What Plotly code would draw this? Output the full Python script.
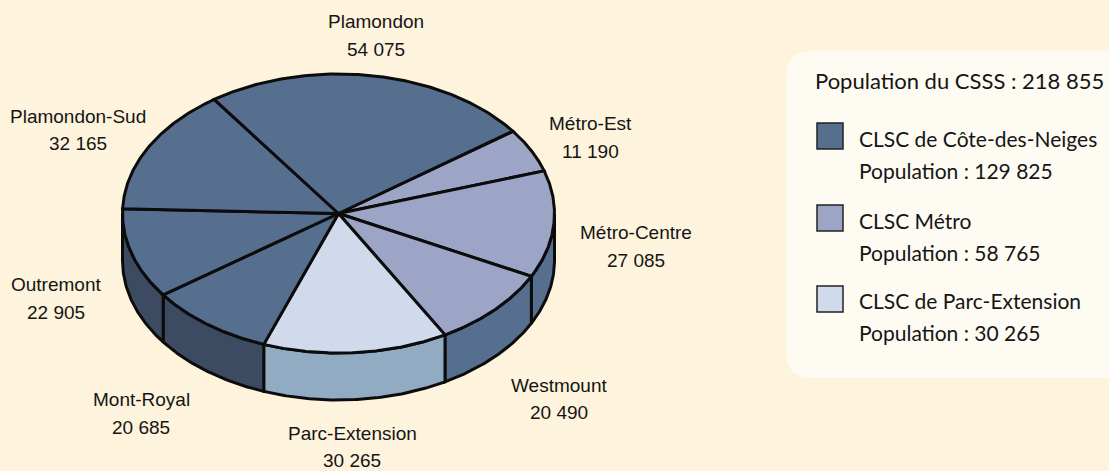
import numpy as np
import plotly.graph_objects as go

# ---- data, clockwise from the Plamondon / Métro-Est boundary
territories = ["Métro-Est", "Métro-Centre", "Westmount", "Parc-Extension",
               "Mont-Royal", "Outremont", "Plamondon-Sud", "Plamondon"]
populations = [11190, 27085, 20490, 30265, 20685, 22905, 32165, 54075]
clsc_of_territory = ["metro", "metro", "metro", "parc", "cdn", "cdn", "cdn", "cdn"]
legend_names = ["CLSC de Côte-des-Neiges", "CLSC Métro", "CLSC de Parc-Extension"]
legend_populations = [129825, 58765, 30265]
total_population = 218855

# ---- styles
BG = "#FEF3DC"
PANEL = "#FEFBF3"
INK = "#0C0C0C"
TEXT = "#151515"
top_colors = {"cdn": "#566F8F", "metro": "#9CA5C5", "parc": "#D1D9EC"}
side_colors = ["#566F8F", "#566F8F", "#566F8F", "#91ABC3", "#3C4A62", "#3C4A62", "#3C4A62", "#3C4A62"]
LABEL_FONT = "Liberation Sans"
LEGEND_FONT = "Lato"

W, H = 1109, 471
CX, CY, RX, RY, DEPTH = 338.5, 213.5, 216, 139.5, 47
START_DEG = 36.2
OUTLINE = 3


def fmt(n):
    return f"{n:,}".replace(",", " ")


def ex(t):
    return CX + RX * np.cos(np.radians(t))


def ey(t, dy=0):
    return CY - RY * np.sin(np.radians(t)) + dy


fig = go.Figure()

total = sum(populations)
sweeps = [v / total * 360 for v in populations]
starts = START_DEG - np.concatenate([[0], np.cumsum(sweeps)[:-1]])
ends = starts - np.array(sweeps)

# side walls (only the front half of the disc)
for s, e, col in zip(starts, ends, side_colors):
    a = min(s, 0)
    b = max(e, -180)
    if a <= b:
        continue
    t = np.linspace(a, b, 80)
    xs = np.concatenate([ex(t), ex(t[::-1]), [ex(t[0])]])
    ys = np.concatenate([ey(t), ey(t[::-1], DEPTH), [ey(t[0])]])
    fig.add_trace(go.Scatter(x=xs, y=ys, mode="lines", fill="toself", fillcolor=col,
                             line=dict(color=INK, width=OUTLINE), hoverinfo="skip"))

# top slices
for s, e, key, name in zip(starts, ends, clsc_of_territory, territories):
    t = np.linspace(s, e, 120)
    xs = np.concatenate([[CX], ex(t), [CX]])
    ys = np.concatenate([[CY], ey(t), [CY]])
    fig.add_trace(go.Scatter(x=xs, y=ys, mode="lines", fill="toself", fillcolor=top_colors[key],
                             line=dict(color=INK, width=OUTLINE), hoverinfo="skip", name=name))

# labels
label_pos = {
    "Plamondon": (376, 21, 376, 49), "Plamondon-Sud": (78, 116, 78, 143),
    "Métro-Est": (590, 123, 590, 151), "Métro-Centre": (636, 232, 636, 260),
    "Outremont": (56, 284, 56, 312), "Mont-Royal": (141, 399, 141, 427),
    "Westmount": (559, 385, 559, 412), "Parc-Extension": (352, 433, 352, 460),
}
for name, value in zip(territories, populations):
    x1, y1, x2, y2 = label_pos[name]
    for x, y, txt in ((x1, y1, name), (x2, y2, fmt(value))):
        fig.add_annotation(x=x, y=y, text=txt, showarrow=False, xanchor="center", yanchor="middle",
                           font=dict(family=LABEL_FONT, size=19, color=TEXT))

# legend panel
R = 26
L, T, B = 786, 51, 378
panel = (f"M {W + 5} {T} L {L + R} {T} Q {L} {T} {L} {T + R} L {L} {B - R} "
         f"Q {L} {B} {L + R} {B} L {W + 5} {B} Z")
fig.add_shape(type="path", path=panel, fillcolor=PANEL, line_width=0, layer="below")


def legend_text(x, y, txt, size=21):
    fig.add_annotation(x=x, y=y, text=txt, showarrow=False, xanchor="left", yanchor="middle",
                       font=dict(family=LEGEND_FONT, size=size, color=TEXT))


legend_text(813, 80, f"Population du CSSS : {fmt(total_population)}", size=22)
for key, name, pop, sy, y1, y2 in zip(top_colors, legend_names, legend_populations,
                                      (123, 205, 286), (138, 220, 300), (170, 252, 332)):
    fig.add_shape(type="rect", x0=817, x1=843, y0=sy, y1=sy + 26, fillcolor=top_colors[key],
                  line=dict(color="#222222", width=1.5))
    legend_text(857, y1, name)
    legend_text(857, y2, f"Population : {fmt(pop)}")

fig.update_layout(
    width=W, height=H, margin=dict(l=0, r=0, t=0, b=0), showlegend=False,
    paper_bgcolor=BG, plot_bgcolor=BG,
    xaxis=dict(range=[0, W], visible=False, fixedrange=True),
    yaxis=dict(range=[H, 0], visible=False, fixedrange=True),
)
fig.write_html("out.html", config={"displayModeBar": False},
               default_width=W, default_height=H,
               post_script="document.body.style.margin='0';document.body.style.overflow='hidden';document.body.style.background='#FEF3DC';")
